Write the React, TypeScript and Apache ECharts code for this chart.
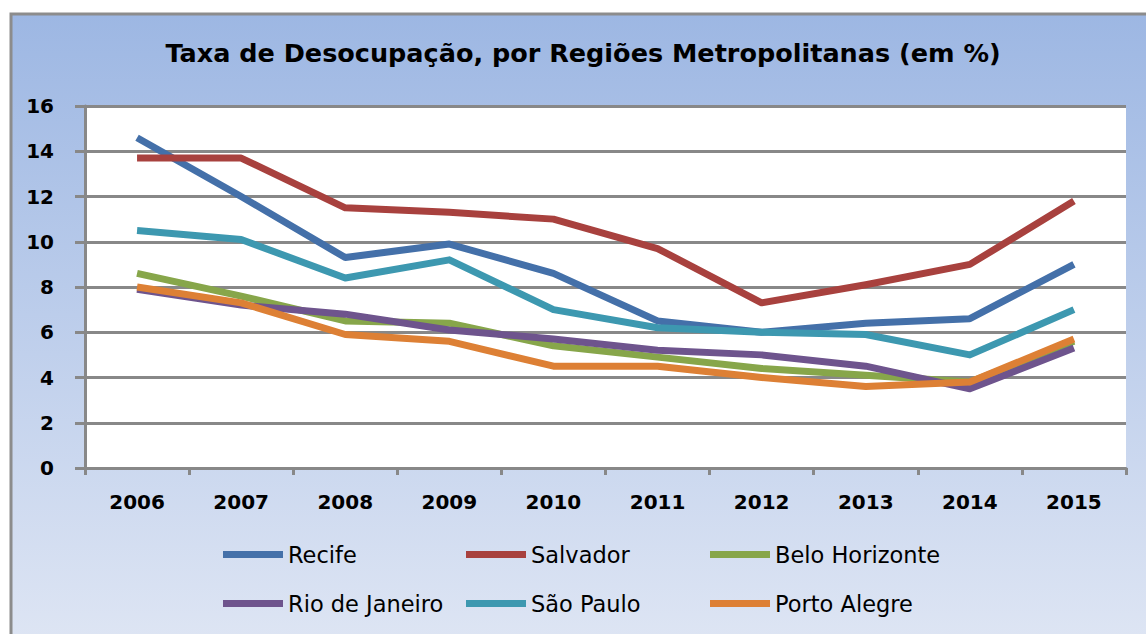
import React, { useEffect, useRef } from "react";
import * as echarts from "echarts";

const categories = ["2006", "2007", "2008", "2009", "2010", "2011", "2012", "2013", "2014", "2015"];
const recife = [14.6, 12.0, 9.3, 9.9, 8.6, 6.5, 6.0, 6.4, 6.6, 9.0];
const salvador = [13.7, 13.7, 11.5, 11.3, 11.0, 9.7, 7.3, 8.1, 9.0, 11.8];
const beloHorizonte = [8.6, 7.6, 6.5, 6.4, 5.4, 4.9, 4.4, 4.1, 3.8, 5.6];
const rioDeJaneiro = [7.9, 7.2, 6.8, 6.1, 5.7, 5.2, 5.0, 4.5, 3.5, 5.3];
const saoPaulo = [10.5, 10.1, 8.4, 9.2, 7.0, 6.2, 6.0, 5.9, 5.0, 7.0];
const portoAlegre = [8.0, 7.3, 5.9, 5.6, 4.5, 4.5, 4.0, 3.6, 3.8, 5.7];

const seriesNames = ["Recife", "Salvador", "Belo Horizonte", "Rio de Janeiro", "São Paulo", "Porto Alegre"];
const seriesData = [recife, salvador, beloHorizonte, rioDeJaneiro, saoPaulo, portoAlegre];
const seriesColors = ["#4470a9", "#a8413e", "#87a64a", "#6e548d", "#3d98b0", "#dd8035"];

const title = "Taxa de Desocupação, por Regiões Metropolitanas (em %)";

export default function App() {
  const ref = useRef<HTMLDivElement>(null);

  useEffect(() => {
    if (!ref.current) return;
    const chart = echarts.init(ref.current, undefined, { renderer: "svg" });
    const gray = "#888888";
    const colLefts = [223, 466, 710];
    const rowTops = [543, 592];
    const legends = seriesNames.map((name, i) => ({
      data: [name],
      icon: "rect",
      itemWidth: 60,
      itemHeight: 7,
      padding: 0,
      left: colLefts[i % 3],
      top: rowTops[Math.floor(i / 3)],
      textStyle: {
        fontFamily: "DejaVu Sans",
        fontSize: 22.5,
        color: "#000000",
      },
    }));
    chart.setOption({
      animation: false,
      backgroundColor: "#ffffff",
      graphic: [
        {
          type: "rect",
          z: -10,
          shape: { x: 11, y: 14, width: 1150, height: 640 },
          style: {
            fill: new echarts.graphic.LinearGradient(0, 0, 0, 1, [
              { offset: 0, color: "#9db7e3" },
              { offset: 1, color: "#dfe6f4" },
            ]),
            stroke: "#8c8c8c",
            lineWidth: 3,
          },
        },
        {
          type: "text",
          z: 10,
          x: 583,
          y: 53,
          style: {
            text: title,
            fontFamily: "DejaVu Sans",
            fontWeight: "bold",
            fontSize: 25.5,
            fill: "#000000",
            align: "center",
            verticalAlign: "middle",
          },
        },
      ],
      grid: {
        left: 85,
        top: 106,
        right: 20,
        bottom: 166,
        show: true,
        backgroundColor: "#ffffff",
        borderWidth: 0,
      },
      legend: legends,
      xAxis: {
        type: "category",
        data: categories,
        boundaryGap: true,
        axisLine: { show: true, lineStyle: { color: gray, width: 3 } },
        axisTick: { show: true, length: 7, lineStyle: { color: gray, width: 3 } },
        axisLabel: {
          fontFamily: "DejaVu Sans",
          fontWeight: "bold",
          fontSize: 20,
          color: "#000000",
          margin: 24,
        },
        splitLine: { show: false },
      },
      yAxis: {
        type: "value",
        min: 0,
        max: 16,
        interval: 2,
        axisLine: { show: true, lineStyle: { color: gray, width: 3 } },
        axisTick: { show: true, length: 10, lineStyle: { color: gray, width: 3 } },
        splitLine: { show: true, lineStyle: { color: gray, width: 3 } },
        axisLabel: {
          fontFamily: "DejaVu Sans",
          fontWeight: "bold",
          fontSize: 20,
          color: "#000000",
          margin: 31,
        },
      },
      series: seriesNames.map((name, i) => ({
        name,
        type: "line",
        data: seriesData[i],
        symbol: "none",
        color: seriesColors[i],
        lineStyle: { width: 7, color: seriesColors[i], join: "round" },
        itemStyle: { color: seriesColors[i] },
      })),
    });
    return () => chart.dispose();
  }, []);

  return (
    <div
      ref={ref}
      style={{ position: "absolute", left: 0, top: 0, width: 1146, height: 634 }}
    />
  );
}
